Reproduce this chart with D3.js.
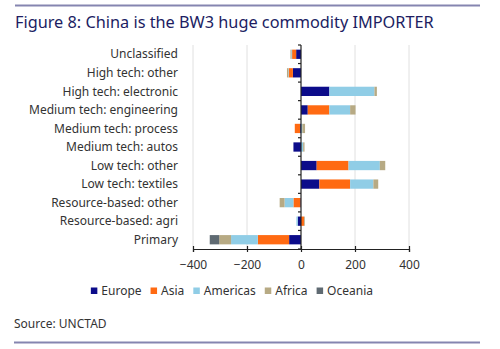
<!DOCTYPE html>
<html>
<head>
<meta charset="utf-8">
<script src="https://cdn.jsdelivr.net/npm/d3@7"></script>
<style>
  html, body { margin: 0; padding: 0; background: #fff; }
  svg { display: block; }
  text { font-family: "Noto Sans", "Open Sans", sans-serif; }
</style>
</head>
<body>
<svg id="chart" width="500" height="349"></svg>
<script>
// Product categories, top to bottom
const categories = [
  "Unclassified",
  "High tech: other",
  "High tech: electronic",
  "Medium tech: engineering",
  "Medium tech: process",
  "Medium tech: autos",
  "Low tech: other",
  "Low tech: textiles",
  "Resource-based: other",
  "Resource-based: agri",
  "Primary"
];

const regions = ["Europe", "Asia", "Americas", "Africa", "Oceania"];

// Net trade balance by partner region (USD bn)
const europe   = [-18, -30, 105,  25,  -3, -28,  58,  68,  -2, -12,  -44];
const asia     = [-15, -16,   0,  80, -20,   0, 118, 114, -26,  11, -116];
const americas = [ -3,  -2, 167,  77,   5,   8, 116,  86, -33,  -5,  -99];
const africa   = [ -3,  -4,   9,  20,  10,   5,  20,  18, -18,   3,  -44];
const oceania  = [  0,   0,   0,   0,   0,   0,   0,   0,   0,   0,  -35];

const xTicks = [-400, -200, 0, 200, 400];

const colors = ["#0c0c8a", "#ff6a12", "#90cde6", "#b7aa84", "#5f6a72"];

const rows = categories.map((c, i) => ({
  category: c,
  Europe: europe[i],
  Asia: asia[i],
  Americas: americas[i],
  Africa: africa[i],
  Oceania: oceania[i]
}));

const svg = d3.select("#chart");
const fs = 12;

// Header and footer rules
const ruleColor = "#8585b0";
svg.append("line").attr("x1", 15).attr("x2", 480).attr("y1", 5.5).attr("y2", 5.5)
  .attr("stroke", ruleColor).attr("stroke-width", 2);
svg.append("line").attr("x1", 14).attr("x2", 480).attr("y1", 342.5).attr("y2", 342.5)
  .attr("stroke", ruleColor).attr("stroke-width", 2);

svg.append("text")
  .attr("x", 15).attr("y", 28)
  .attr("fill", "#201d62")
  .attr("font-size", 16.3)
  .text("Figure 8: China is the BW3 huge commodity IMPORTER");

svg.append("text")
  .attr("x", 14).attr("y", 328)
  .attr("fill", "#333")
  .attr("font-size", fs)
  .text("Source: UNCTAD");

// Plot geometry
const plotTop = 45, plotBottom = 249;
const x = d3.scaleLinear().domain([-400, 400]).range([193, 409]);
const y = d3.scaleBand().domain(categories).range([plotTop, plotBottom]).paddingInner(0.5).paddingOuter(0.25);
const yOuter = d3.scaleBand().domain(categories).range([plotTop, plotBottom]);

// Vertical gridlines
svg.append("g").selectAll("line")
  .data(xTicks.filter(t => t !== 0))
  .join("line")
  .attr("x1", d => x(d)).attr("x2", d => x(d))
  .attr("y1", plotTop).attr("y2", plotBottom)
  .attr("stroke", "#e0e0e0").attr("stroke-width", 1);

// Stacked bars, positives to the right of zero and negatives to the left
const stack = d3.stack().keys(regions).offset(d3.stackOffsetDiverging);
const series = stack(rows);

svg.append("g").selectAll("g")
  .data(series)
  .join("g")
  .attr("fill", (d, i) => colors[i])
  .selectAll("rect")
  .data(d => d)
  .join("rect")
  .attr("x", d => x(Math.min(d[0], d[1])))
  .attr("width", d => Math.abs(x(d[1]) - x(d[0])))
  .attr("y", d => y(d.data.category))
  .attr("height", y.bandwidth());

// Zero line with category ticks
const zeroAxis = svg.append("g").attr("transform", `translate(${x(0)},0)`);
zeroAxis.append("line").attr("y1", plotTop).attr("y2", plotBottom)
  .attr("stroke", "#222").attr("stroke-width", 1.2);
const bounds = categories.map(c => yOuter(c)).concat([plotBottom]);
zeroAxis.selectAll("line.tk").data(bounds).join("line").attr("class", "tk")
  .attr("x1", -3).attr("x2", 0)
  .attr("y1", d => d).attr("y2", d => d)
  .attr("stroke", "#222").attr("stroke-width", 1.2);

// Category labels
svg.append("g").selectAll("text")
  .data(categories)
  .join("text")
  .attr("x", 178)
  .attr("y", d => yOuter(d) + yOuter.bandwidth() / 2)
  .attr("dy", "0.35em")
  .attr("text-anchor", "end")
  .attr("fill", "#333")
  .attr("font-size", fs)
  .text(d => d);

// Bottom value axis
const xAxis = d3.axisBottom(x).tickValues(xTicks).tickSize(3).tickPadding(8);
const ax = svg.append("g").attr("transform", `translate(0,${plotBottom})`).call(xAxis);
ax.select(".domain").attr("stroke", "#222").attr("stroke-width", 1.2);
ax.selectAll(".tick line").attr("stroke", "#222").attr("y1", -3).attr("y2", 3).attr("stroke-width", 1.2);
ax.selectAll(".tick text").attr("fill", "#333").attr("font-size", fs)
  .attr("font-family", '"Noto Sans", sans-serif');

// Legend
const legend = svg.append("g");
const items = [];
regions.forEach((r, i) => {
  const g = legend.append("g");
  g.append("rect").attr("x", 0).attr("y", -3.5).attr("width", 6.5).attr("height", 6.5).attr("fill", colors[i]);
  const t = g.append("text").attr("x", 10.5).attr("dy", "0.35em")
    .attr("fill", "#333").attr("font-size", fs).text(r);
  items.push({ g, w: 10.5 + t.node().getComputedTextLength() });
});
const gap = 9;
const totalW = d3.sum(items, d => d.w) + gap * (items.length - 1);
let lx = 373 - totalW;
items.forEach(it => {
  it.g.attr("transform", `translate(${lx},291)`);
  lx += it.w + gap;
});
</script>
</body>
</html>
